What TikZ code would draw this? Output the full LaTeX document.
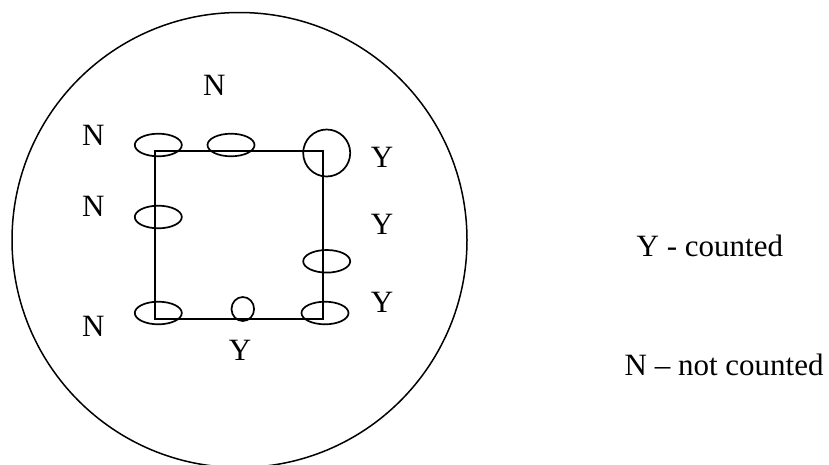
\documentclass[tikz,border=0pt]{standalone}
\usepackage{fontspec}
\setmainfont{Liberation Serif}
\usetikzlibrary{shapes.geometric}
\tikzset{
  outline/.style={line width=1.5pt},
  boxline/.style={line width=1.7pt},
  ring/.style={draw, ellipse, line width=1.7pt, inner sep=0pt, minimum width=47pt, minimum height=22.6pt},
  roundring/.style={draw, circle, line width=1.7pt, inner sep=0pt, minimum size=47pt},
  smallring/.style={draw, ellipse, line width=1.7pt, inner sep=0pt, minimum width=22.6pt, minimum height=24pt},
  lab/.style={anchor=base, inner sep=0pt, font=\fontsize{31}{36}\selectfont},
  legend/.style={anchor=base west, inner sep=0pt, font=\fontsize{31}{36}\selectfont}
}
\begin{document}
\begin{tikzpicture}[x=1pt,y=-1pt]
\useasboundingbox (0,0) rectangle (829,464);
% outer circle
\draw[outline] (239.5,240) circle [radius=227.5pt];
% square
\draw[boxline] (155,151) rectangle (323.3,319);
% rings
\node[ring] (e1) at (158.3,145) {};
\node[ring] (e2) at (231,145) {};
\node[roundring] (e3) at (326.7,153) {};
\node[ring] (e4) at (158.3,217) {};
\node[ring] (e5) at (326.7,261.3) {};
\node[ring] (e6) at (158.3,313) {};
\node[smallring] (e7) at (242.8,309) {};
\node[ring] (e8) at (325,313) {};
% labels
\node[lab] (n1) at (214.3,95.7) {N};
\node[lab] (n2) at (93.3,145.7) {N};
\node[lab] (n3) at (93.3,216) {N};
\node[lab] (n4) at (93.3,336) {N};
\node[lab] (y1) at (382,167.7) {Y};
\node[lab] (y2) at (382,234) {Y};
\node[lab] (y3) at (382,312.3) {Y};
\node[lab] (y4) at (240,360) {Y};
% legend
\node[legend] (l1) at (636.5,256.7) {Y - counted};
\node[legend] (l2) at (624.5,375) {N -- not counted};
\end{tikzpicture}
\end{document}
